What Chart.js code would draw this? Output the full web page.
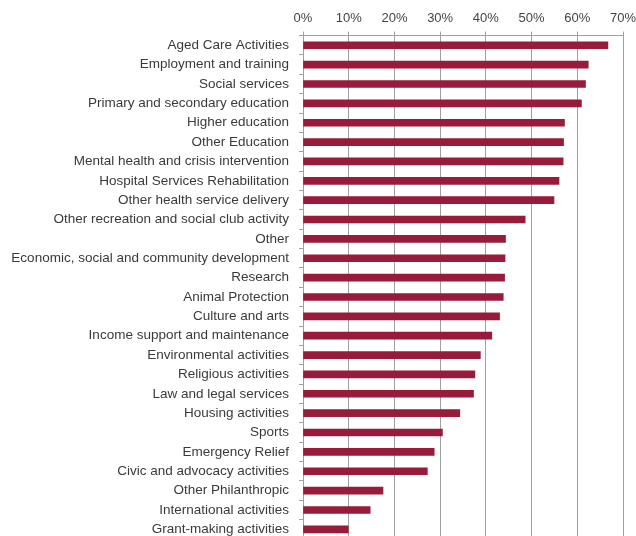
<!DOCTYPE html>
<html>
<head>
<meta charset="utf-8">
<script src="https://cdn.jsdelivr.net/npm/chart.js@4/dist/chart.umd.min.js"></script>
<style>
  html, body { margin: 0; padding: 0; background: #fff; overflow: hidden; }
  #wrap { position: relative; width: 636px; height: 536px; overflow: hidden; }
  #box { position: absolute; left: 0; top: 0; width: 636px; height: 539px; }
</style>
</head>
<body>
<div id="wrap"><div id="box"><canvas id="chart"></canvas></div></div>
<script>
// Share of organisations by activity (%)
const categories = [
  'Aged Care Activities',
  'Employment and training',
  'Social services',
  'Primary and secondary education',
  'Higher education',
  'Other Education',
  'Mental health and crisis intervention',
  'Hospital Services Rehabilitation',
  'Other health service delivery',
  'Other recreation and social club activity',
  'Other',
  'Economic, social and community development',
  'Research',
  'Animal Protection',
  'Culture and arts',
  'Income support and maintenance',
  'Environmental activities',
  'Religious activities',
  'Law and legal services',
  'Housing activities',
  'Sports',
  'Emergency Relief',
  'Civic and advocacy activities',
  'Other Philanthropic',
  'International activities',
  'Grant-making activities'
];

const shares = [
  66.7, 62.4, 61.8, 60.9, 57.2, 57.0, 56.9, 56.0, 54.9, 48.6,
  44.3, 44.2, 44.1, 43.8, 43.0, 41.3, 38.8, 37.6, 37.3, 34.3,
  30.5, 28.7, 27.2, 17.5, 14.7, 9.9
];

const axisMax = 70;
const axisStep = 10;

const gridGrey = '#a0a0a0';
const catFont = { family: "'Liberation Sans', Arial, sans-serif", size: 13.5 };
const tickFont = { family: "'Liberation Sans', Arial, sans-serif", size: 13 };

new Chart(document.getElementById('chart'), {
  type: 'bar',
  data: {
    labels: categories,
    datasets: [{
      data: shares,
      backgroundColor: '#991b3a',
      borderWidth: 0,
      barThickness: 7
    }]
  },
  options: {
    indexAxis: 'y',
    responsive: true,
    maintainAspectRatio: false,
    animation: false,
    layout: { padding: { top: 6, right: 13, bottom: 0, left: 0 } },
    plugins: {
      legend: { display: false },
      tooltip: { enabled: false }
    },
    scales: {
      x: {
        position: 'top',
        min: 0,
        max: axisMax,
        ticks: {
          stepSize: axisStep,
          padding: 5,
          color: '#444',
          font: tickFont,
          callback: v => v + '%'
        },
        grid: {
          color: gridGrey,
          lineWidth: 1,
          tickLength: 4,
          drawTicks: true
        },
        border: { display: true, color: gridGrey, width: 1 },
        afterFit: scale => { scale.paddingLeft = 0; scale.paddingRight = 0; }
      },
      y: {
        ticks: {
          padding: 10,
          color: '#3a3a3a',
          font: catFont,
          autoSkip: false
        },
        grid: {
          offset: true,
          drawOnChartArea: false,
          drawTicks: true,
          tickLength: 4,
          color: gridGrey
        },
        border: { display: true, color: gridGrey, width: 1 },
        afterFit: scale => {
          scale.width = 303;
          scale.paddingTop = 0;
          scale.paddingBottom = 0;
        }
      }
    }
  }
});
</script>
</body>
</html>
